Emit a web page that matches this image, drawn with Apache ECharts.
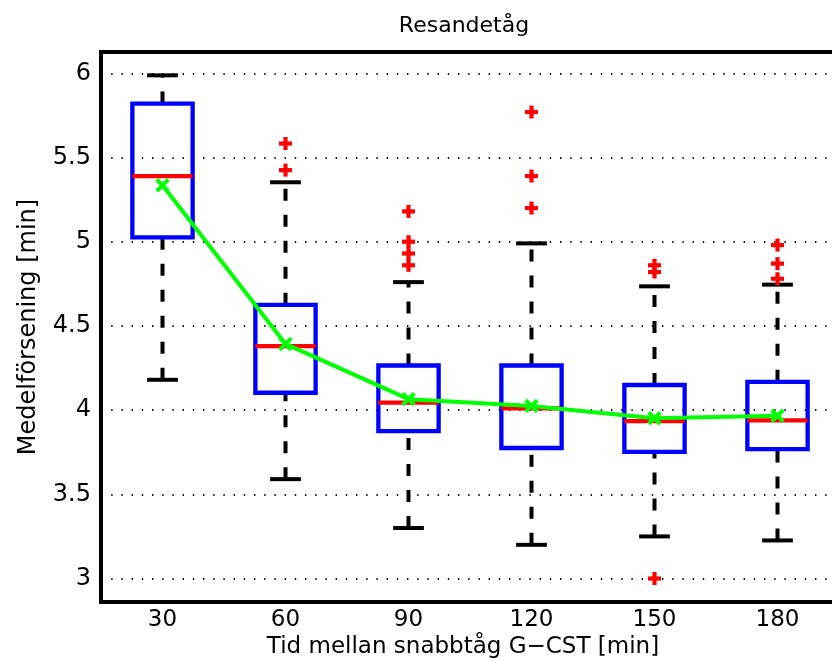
<!DOCTYPE html>
<html><head><meta charset="utf-8">
<script src="https://cdn.jsdelivr.net/npm/echarts@6/dist/echarts.min.js"></script>
<style>html,body{margin:0;padding:0;background:#fff;overflow:hidden}#c{width:832px;height:662px}</style>
</head><body><div id="c"></div>
<script>
const categories = ['30', '60', '90', '120', '150', '180'];
const whiskerLow = [4.18, 3.59, 3.30, 3.20, 3.25, 3.226];
const q1 = [5.026, 4.103, 3.875, 3.775, 3.752, 3.768];
const medians = [5.389, 4.38, 4.045, 4.01, 3.935, 3.939];
const q3 = [5.82, 4.625, 4.265, 4.265, 4.149, 4.168];
const whiskerHigh = [5.988, 5.353, 4.76, 4.99, 4.735, 4.745];
const means = [5.335, 4.393, 4.065, 4.025, 3.952, 3.966];
const outlierCat = [1, 1, 2, 2, 2, 2, 3, 3, 3, 4, 4, 4, 5, 5, 5];
const outlierVal = [5.583, 5.425, 5.18, 5.0, 4.93, 4.86, 5.77, 5.39, 5.20, 4.86, 4.82, 3.0, 4.98, 4.87, 4.78];
const yTicks = [3, 3.5, 4, 4.5, 5, 5.5, 6];
const yMin = 2.8605, yMax = 6.1265;

const FONT = '"DejaVu Sans", sans-serif';
const boxData = categories.map((c, i) => [i, whiskerLow[i], q1[i], medians[i], q3[i], whiskerHigh[i]]);
const outData = outlierCat.map((c, i) => [c, outlierVal[i]]);
const meanData = means.map((m, i) => [i, m]);

function renderBox(params, api) {
  const i = api.value(0);
  const band = api.size([1, 0])[0];
  const bw = band * 0.49, cw = band * 0.25;
  const pWl = api.coord([i, api.value(1)]);
  const pQ1 = api.coord([i, api.value(2)]);
  const pMed = api.coord([i, api.value(3)]);
  const pQ3 = api.coord([i, api.value(4)]);
  const pWh = api.coord([i, api.value(5)]);
  const x = pQ1[0];
  const wStyle = {stroke: '#000', lineWidth: 4, lineDash: [12, 14], fill: null};
  return {type: 'group', children: [
    {type: 'line', shape: {x1: x, y1: pQ3[1], x2: x, y2: pWh[1]}, style: wStyle},
    {type: 'line', shape: {x1: x, y1: pWl[1], x2: x, y2: pQ1[1]}, style: wStyle},
    {type: 'line', shape: {x1: x - cw / 2, y1: pWh[1], x2: x + cw / 2, y2: pWh[1]}, style: {stroke: '#000', lineWidth: 4}},
    {type: 'line', shape: {x1: x - cw / 2, y1: pWl[1], x2: x + cw / 2, y2: pWl[1]}, style: {stroke: '#000', lineWidth: 4}},
    {type: 'rect', shape: {x: x - bw / 2, y: pQ3[1], width: bw, height: pQ1[1] - pQ3[1]}, style: {fill: null, stroke: '#0000ff', lineWidth: 4.3}},
    {type: 'line', shape: {x1: x - bw / 2, y1: pMed[1], x2: x + bw / 2, y2: pMed[1]}, style: {stroke: '#ff0000', lineWidth: 4.3}}
  ]};
}
function renderPlus(params, api) {
  const p = api.coord([api.value(0), api.value(1)]);
  const s = 6.5;
  return {type: 'group', children: [
    {type: 'line', shape: {x1: p[0] - s, y1: p[1], x2: p[0] + s, y2: p[1]}, style: {stroke: '#ff0000', lineWidth: 4.2}},
    {type: 'line', shape: {x1: p[0], y1: p[1] - s, x2: p[0], y2: p[1] + s}, style: {stroke: '#ff0000', lineWidth: 4.2}}
  ]};
}
function renderX(params, api) {
  const p = api.coord([api.value(0), api.value(1)]);
  const s = 5.8;
  return {type: 'group', children: [
    {type: 'line', shape: {x1: p[0] - s, y1: p[1] - s, x2: p[0] + s, y2: p[1] + s}, style: {stroke: '#00ff00', lineWidth: 4}},
    {type: 'line', shape: {x1: p[0] - s, y1: p[1] + s, x2: p[0] + s, y2: p[1] - s}, style: {stroke: '#00ff00', lineWidth: 4}}
  ]};
}

const chart = echarts.init(document.getElementById('c'), null, {renderer: 'canvas'});
chart.setOption({
  animation: false,
  backgroundColor: '#fff',
  title: [
    {text: 'Resandetåg', left: 459, top: 10, textAlign: 'center',
     textStyle: {fontSize: 22, fontWeight: 'normal', color: '#000', fontFamily: FONT}},
    {text: 'Tid mellan snabbtåg G\u2212CST [min]', left: 458, top: 631, textAlign: 'center',
     textStyle: {fontSize: 23, fontWeight: 'normal', color: '#000', fontFamily: FONT}}
  ],
  grid: {left: 101, width: 738, top: 52, bottom: 60, outerBoundsMode: 'none', containLabel: false,
         show: true, borderColor: '#000', borderWidth: 4, backgroundColor: 'transparent'},
  xAxis: {
    type: 'category', data: categories, boundaryGap: true,
    axisLine: {show: false}, axisTick: {show: false}, splitLine: {show: false},
    axisLabel: {fontSize: 23, color: '#000', margin: 7, fontFamily: FONT}
  },
  yAxis: {
    type: 'value', min: yMin, max: yMax,
    name: 'Medelförsening [min]', nameLocation: 'middle', nameGap: 60,
    nameTextStyle: {fontSize: 24, color: '#000', fontFamily: FONT},
    axisLine: {show: false},
    axisTick: {show: false, customValues: yTicks},
    axisLabel: {fontSize: 24, color: '#000', margin: 10, fontFamily: FONT, customValues: yTicks,
      formatter: v => String(Math.round(v * 10) / 10)},
    splitLine: {show: true, lineStyle: {color: '#111', width: 2, type: [1.4, 8.8]}}
  },
  series: [
    {type: 'custom', renderItem: renderBox, data: boxData, encode: {x: 0, y: [1, 2, 3, 4, 5]}, z: 2},
    {type: 'custom', renderItem: renderPlus, data: outData, encode: {x: 0, y: 1}, z: 3},
    {type: 'line', data: meanData, symbol: 'none', lineStyle: {color: '#00ff00', width: 4}, z: 4},
    {type: 'custom', renderItem: renderX, data: meanData, encode: {x: 0, y: 1}, z: 5}
  ]
});
</script></body></html>
